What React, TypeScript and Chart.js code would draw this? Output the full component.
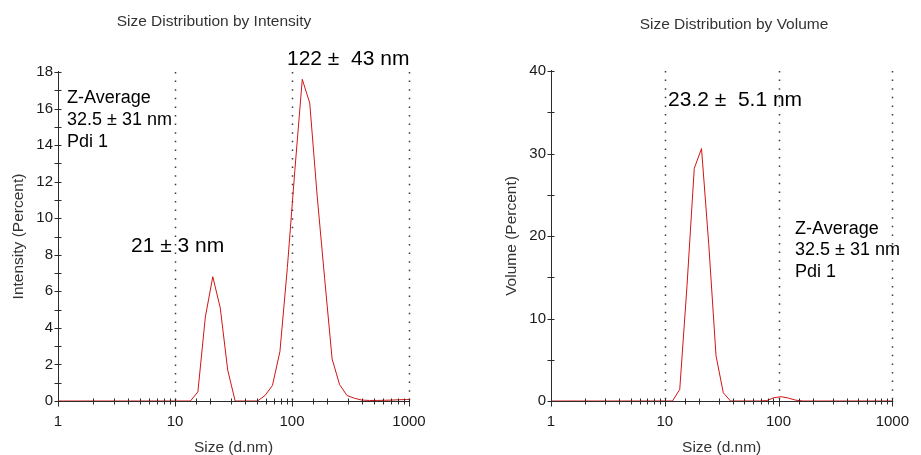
import React, { useEffect, useRef } from 'react';
import { Chart, registerables } from 'chart.js';

Chart.register(...registerables);

// Size classes (d.nm) spanning the 1–1000 nm window
const sizeClasses = [
  0.9649, 1.117, 1.294, 1.499, 1.736, 2.01, 2.328, 2.696, 3.122, 3.615,
  4.187, 4.849, 5.615, 6.503, 7.531, 8.721, 10.1, 11.7, 13.54, 15.69,
  18.17, 21.04, 24.36, 28.21, 32.67, 37.84, 43.82, 50.75, 58.77, 68.06,
  78.82, 91.28, 105.7, 122.4, 141.8, 164.2, 190.1, 220.2, 255.0, 295.3,
  342.0, 396.1, 458.7, 531.2, 615.1, 712.4, 825.0, 955.4, 1106,
];

// Intensity distribution (%)
const intensityPercent = [
  0, 0, 0, 0, 0, 0, 0, 0, 0, 0,
  0, 0, 0, 0, 0, 0, 0, 0, 0, 0.5,
  4.6, 6.8, 5.1, 1.7, 0, 0, 0, 0, 0.3, 0.85,
  2.7, 7.3, 12.6, 17.6, 16.3, 11.2, 6.7, 2.3, 0.9, 0.3,
  0.15, 0.05, 0.03, 0.03, 0.04, 0.05, 0.07, 0.08, 0.1,
];

// Volume distribution (%)
const volumePercent = [
  0, 0, 0, 0, 0, 0, 0, 0, 0, 0,
  0, 0, 0, 0, 0, 0, 0, 0, 1.4, 14,
  28.2, 30.6, 19, 5.5, 1.0, 0, 0, 0, 0, 0,
  0.05, 0.4, 0.52, 0.35, 0.1, 0, 0, 0, 0, 0,
  0, 0, 0, 0, 0, 0, 0, 0, 0,
];

// Axis ranges and dotted reference sizes
const sizeRange = [1, 1000];
const dottedSizes = [10, 100, 1000];
const intensityRange = [0, 18];
const volumeRange = [0, 40];

// Texts
const intensityTitle = 'Size Distribution by Intensity';
const volumeTitle = 'Size Distribution by Volume';
const sizeAxisTitle = 'Size (d.nm)';
const intensityAxisTitle = 'Intensity (Percent)';
const volumeAxisTitle = 'Volume (Percent)';
const zAverageLines = ['Z-Average', '32.5 \u00b1 31 nm', 'Pdi 1'];
const intensityPeakLabels = ['122 \u00b1  43 nm', '21 \u00b1 3 nm'];
const volumePeakLabels = ['23.2 \u00b1  5.1 nm'];

const FONT = '"Liberation Sans", Arial, Helvetica, sans-serif';

const isDecade = (v: number) => {
  const l = Math.log10(v);
  return Math.abs(l - Math.round(l)) < 1e-9;
};

type Note = { lines: string[]; x: number; y: number; size: number; gap: number };

type PanelSpec = {
  values: number[];
  yRange: number[];
  yStep: number;
  yLabelEvery: number;
  yTitle: string;
  yTitlePad: number;
  yAxisWidth: number;
  title: string;
  titleX: number;
  titleY: number;
  padding: { top: number; right: number; bottom: number; left: number };
  notes: Note[];
};

// Axis frame: dotted decade lines, solid axes with crossing tick marks, titles and notes
const framePlugin = {
  id: 'frame',
  beforeDatasetsDraw(chart: any) {
    const { ctx, chartArea } = chart;
    const xs = chart.scales.x;
    ctx.save();
    ctx.strokeStyle = '#3a3a3a';
    ctx.lineWidth = 1.5;
    ctx.setLineDash([1.5, 7.1]);
    for (const v of dottedSizes) {
      const px = Math.round(xs.getPixelForValue(v)) + 0.5;
      ctx.beginPath();
      ctx.moveTo(px, chartArea.top);
      ctx.lineTo(px, chartArea.bottom);
      ctx.stroke();
    }
    ctx.restore();
  },
  afterDraw(chart: any, _args: any, opts: any) {
    const { ctx, chartArea } = chart;
    const xs = chart.scales.x;
    const ys = chart.scales.y;
    const ax = Math.round(chartArea.left) + 0.5;
    const ay = Math.round(chartArea.bottom) + 0.5;

    ctx.save();
    ctx.setLineDash([]);
    ctx.strokeStyle = '#2b2b2b';
    ctx.lineWidth = 1;
    ctx.beginPath();
    ctx.moveTo(ax, chartArea.top - 1);
    ctx.lineTo(ax, ay);
    ctx.lineTo(chartArea.right + 1, ay);
    ctx.stroke();

    ctx.beginPath();
    for (const t of ys.ticks) {
      const py = Math.round(ys.getPixelForValue(t.value)) + 0.5;
      ctx.moveTo(ax - 4, py);
      ctx.lineTo(ax + 3, py);
    }
    for (const t of xs.ticks) {
      const px = Math.round(xs.getPixelForValue(t.value)) + 0.5;
      ctx.moveTo(px, ay - 3);
      ctx.lineTo(px, ay + (isDecade(t.value) ? 5 : 3));
    }
    ctx.stroke();

    ctx.textBaseline = 'middle';
    ctx.fillStyle = '#333';
    ctx.textAlign = 'center';
    ctx.font = `15.5px ${FONT}`;
    ctx.fillText(opts.title, opts.titleX, opts.titleY);
    ctx.fillStyle = '#000';
    ctx.textAlign = 'left';
    for (const n of opts.notes as Note[]) {
      ctx.font = `${n.size}px ${FONT}`;
      n.lines.forEach((line, i) => ctx.fillText(line, n.x, n.y + i * n.gap));
    }
    ctx.restore();
  },
};

function buildChart(canvas: HTMLCanvasElement, spec: PanelSpec) {
  return new Chart(canvas, {
    type: 'line',
    data: {
      datasets: [
        {
          data: sizeClasses.map((s, i) => ({ x: s, y: spec.values[i] })),
          borderColor: '#d11414',
          borderWidth: 1,
          pointRadius: 0,
          tension: 0,
          fill: false,
        },
      ],
    },
    options: {
      responsive: false,
      animation: false,
      events: [],
      layout: { padding: spec.padding },
      plugins: {
        legend: { display: false },
        title: { display: false },
        tooltip: { enabled: false },
        frame: {
          title: spec.title,
          titleX: spec.titleX,
          titleY: spec.titleY,
          notes: spec.notes,
        },
      } as any,
      scales: {
        x: {
          type: 'logarithmic',
          min: sizeRange[0],
          max: sizeRange[1],
          grid: { display: false, drawTicks: false },
          border: { display: false },
          afterFit: (scale: any) => {
            scale.height = 54;
          },
          ticks: {
            autoSkip: false,
            maxRotation: 0,
            minRotation: 0,
            padding: 12,
            color: '#1a1a1a',
            font: { family: FONT, size: 15 },
            callback: (v: any) => (isDecade(Number(v)) ? String(Number(v)) : ''),
          },
          title: {
            display: true,
            text: sizeAxisTitle,
            color: '#333',
            font: { family: FONT, size: 15.5 },
            padding: { top: 0, bottom: -2 },
          },
        },
        y: {
          type: 'linear',
          min: spec.yRange[0],
          max: spec.yRange[1],
          grid: { display: false, drawTicks: false },
          border: { display: false },
          afterFit: (scale: any) => {
            scale.width = spec.yAxisWidth;
          },
          ticks: {
            stepSize: spec.yStep,
            autoSkip: false,
            padding: 5,
            color: '#1a1a1a',
            font: { family: FONT, size: 15 },
            callback: (v: any) => (Number(v) % spec.yLabelEvery === 0 ? String(v) : ''),
          },
          title: {
            display: true,
            text: spec.yTitle,
            color: '#333',
            font: { family: FONT, size: 15.5 },
            padding: { top: spec.yTitlePad, bottom: 0 },
          },
        },
      },
    } as any,
    plugins: [framePlugin as any],
  });
}

export default function App() {
  const leftRef = useRef<HTMLCanvasElement>(null);
  const rightRef = useRef<HTMLCanvasElement>(null);

  useEffect(() => {
    const left = buildChart(leftRef.current!, {
      values: intensityPercent,
      yRange: intensityRange,
      yStep: 1,
      yLabelEvery: 2,
      yTitle: intensityAxisTitle,
      yTitlePad: 9,
      yAxisWidth: 58,
      title: intensityTitle,
      titleX: 214,
      titleY: 22,
      padding: { top: 72, right: 51, bottom: 0, left: 0 },
      notes: [
        { lines: zAverageLines, x: 67, y: 98.5, size: 18, gap: 21.7 },
        { lines: [intensityPeakLabels[0]], x: 287, y: 59.5, size: 21, gap: 0 },
        { lines: [intensityPeakLabels[1]], x: 131, y: 246, size: 21, gap: 0 },
      ],
    });
    const right = buildChart(rightRef.current!, {
      values: volumePercent,
      yRange: volumeRange,
      yStep: 5,
      yLabelEvery: 10,
      yTitle: volumeAxisTitle,
      yTitlePad: 42.7,
      yAxisWidth: 91,
      title: volumeTitle,
      titleX: 274,
      titleY: 25,
      padding: { top: 71, right: 18, bottom: 0, left: 0 },
      notes: [
        { lines: [volumePeakLabels[0]], x: 208, y: 100.3, size: 21, gap: 0 },
        { lines: zAverageLines, x: 335, y: 228.8, size: 18, gap: 21.5 },
      ],
    });
    return () => {
      left.destroy();
      right.destroy();
    };
  }, []);

  return (
    <div style={{ position: 'fixed', left: 0, top: 0, width: 921, height: 455, background: '#fff' }}>
      <canvas ref={leftRef} width={460} height={455} style={{ position: 'absolute', left: 0, top: 0 }} />
      <canvas ref={rightRef} width={461} height={455} style={{ position: 'absolute', left: 460, top: 0 }} />
    </div>
  );
}
